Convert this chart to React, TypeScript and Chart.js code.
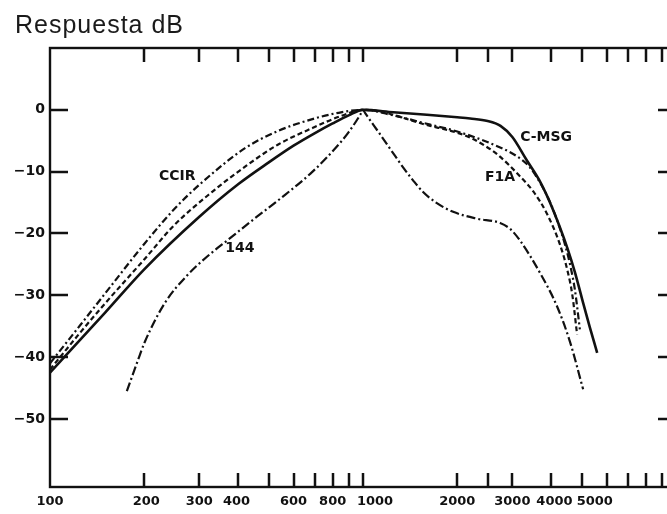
import React, { useEffect, useRef } from 'react';
import { Chart, registerables } from 'chart.js';

Chart.register(...registerables);

const TITLE = 'Respuesta dB';
const INK = '#111111';
const FONT = '"DejaVu Sans", "Liberation Sans", sans-serif';

const X_MIN = 100;
const X_MAX = 10000;
const Y_MIN = -61;
const Y_MAX = 10;

const X_LABEL_TICKS = [100, 200, 300, 400, 600, 800, 1000, 2000, 3000, 4000, 5000];
// small horizontal nudges of the printed labels (crowded labels in the original)
const X_LABEL_NUDGE = [0, 2, 0, -2, 0, 0, 12, 0, 0, 3, 13];
const X_MARK_TICKS = [200, 300, 400, 500, 600, 700, 800, 900, 1000, 2000, 2500, 3000, 4000, 5000, 6000, 7000, 8000, 9000];
const Y_TICKS = [0, -10, -20, -30, -40, -50];

// C-MSG (solid)
const CMSG_FREQ = [100, 150, 200, 300, 400, 500, 600, 700, 800, 900, 1000, 1250, 1600, 2000, 2200, 2500, 2750, 3000, 3340, 3650, 3950, 4250, 4500, 4750, 5000, 5300, 5600];
const CMSG_DB = [-42.5, -32.8, -25.8, -17.3, -12, -8.5, -5.8, -3.8, -2.2, -0.9, 0, -0.4, -0.8, -1.2, -1.4, -1.8, -2.6, -4.4, -8.2, -11.3, -14.9, -18.9, -22.4, -26.2, -30.4, -35.1, -39.3];

// CCIR (dash-dot)
const CCIR_FREQ = [100, 125, 150, 200, 250, 305, 420, 536, 700, 850, 1000, 1250, 1640, 2000, 2550, 3100, 3400, 3700, 3950, 4200, 4420, 4600, 4750, 4930];
const CCIR_DB = [-41, -34.8, -29.7, -21.7, -16, -11.8, -6.2, -3.4, -1.4, -0.4, 0, -0.9, -2.4, -3.5, -5.4, -7.5, -9.2, -12, -14.8, -18.3, -21.8, -25.3, -29, -35.5];

// F1A (dashed)
const F1A_FREQ = [100, 125, 150, 200, 250, 329, 425, 536, 692, 850, 1000, 1640, 2000, 2200, 2450, 2700, 3180, 3500, 3870, 4260, 4500, 4660, 4830];
const F1A_DB = [-42, -36, -31.3, -24.2, -18.6, -13.3, -9, -5.6, -2.9, -1, 0, -2.6, -3.7, -4.5, -5.8, -7.3, -10.8, -13.2, -16.8, -21.8, -26, -29.8, -36.3];

// 144 (long dash - dot)
const W144_FREQ = [176, 190, 201, 233, 274, 320, 371, 450, 540, 690, 813, 900, 985, 1000, 1015, 1132, 1248, 1343, 1445, 1556, 1722, 1941, 2311, 2742, 2958, 3180, 3680, 4170, 4590, 5050];
const W144_DB = [-45.5, -40.8, -37.5, -31.2, -26.8, -23.6, -21, -17.6, -14.5, -10, -6.3, -3.6, -0.6, 0, -0.5, -3.9, -7, -9.3, -11.4, -13.3, -15.1, -16.5, -17.6, -18.3, -19.3, -21.2, -26.4, -31.8, -37.6, -45.2];

const CURVE_LABELS = ['CCIR', 'C-MSG', 'F1A', '144'];
const CURVE_LABEL_FREQ = [255, 3846, 2742, 404];
const CURVE_LABEL_DB = [-10.8, -4.4, -11, -22.4];

const toPoints = (fs: number[], ds: number[]) => fs.map((f, i) => ({ x: f, y: ds[i] }));

const framePlugin = {
  id: 'frameAndLabels',
  afterDraw(chart: any) {
    const { ctx, chartArea: a, scales } = chart;
    const x = scales.x;
    const y = scales.y;
    ctx.save();
    ctx.strokeStyle = INK;
    ctx.lineWidth = 2.4;
    ctx.strokeRect(a.left, a.top, a.right - a.left, a.bottom - a.top);
    ctx.lineWidth = 2.5;
    ctx.beginPath();
    for (const v of X_MARK_TICKS) {
      const px = Math.round(x.getPixelForValue(v));
      ctx.moveTo(px, a.bottom);
      ctx.lineTo(px, a.bottom - 14);
      ctx.moveTo(px, a.top);
      ctx.lineTo(px, a.top + 14);
    }
    for (const v of Y_TICKS) {
      const py = Math.round(y.getPixelForValue(v));
      ctx.moveTo(a.left, py);
      ctx.lineTo(a.left + 18, py);
      ctx.moveTo(a.right, py);
      ctx.lineTo(a.right - 18, py);
    }
    ctx.stroke();
    ctx.fillStyle = INK;
    ctx.textAlign = 'center';
    ctx.textBaseline = 'middle';
    ctx.font = `bold 13px ${FONT}`;
    X_LABEL_TICKS.forEach((v, i) => {
      ctx.fillText(String(v), x.getPixelForValue(v) + X_LABEL_NUDGE[i], a.bottom + 15);
    });
    ctx.font = `bold 14px ${FONT}`;
    CURVE_LABELS.forEach((t, i) => {
      ctx.fillText(t, x.getPixelForValue(CURVE_LABEL_FREQ[i]), y.getPixelForValue(CURVE_LABEL_DB[i]));
    });
    ctx.restore();
  },
};

export default function App() {
  const ref = useRef<HTMLCanvasElement>(null);
  useEffect(() => {
    const common = { pointRadius: 0, borderColor: INK, fill: false, cubicInterpolationMode: 'monotone' as const };
    const chart = new Chart(ref.current as HTMLCanvasElement, {
      type: 'line',
      data: {
        datasets: [
          { ...common, label: 'C-MSG', data: toPoints(CMSG_FREQ, CMSG_DB), borderWidth: 2.6 },
          { ...common, label: 'CCIR', data: toPoints(CCIR_FREQ, CCIR_DB), borderWidth: 2.2, borderDash: [7, 3, 2, 3] },
          { ...common, label: 'F1A', data: toPoints(F1A_FREQ, F1A_DB), borderWidth: 2.2, borderDash: [5, 3] },
          { ...common, label: '144', data: toPoints(W144_FREQ, W144_DB), borderWidth: 2.2, borderDash: [9, 3, 2, 3] },
        ],
      },
      options: {
        responsive: false,
        animation: false,
        devicePixelRatio: 1,
        layout: { padding: { top: 48, right: 14, left: 0, bottom: 0 } },
        plugins: { legend: { display: false }, tooltip: { enabled: false }, title: { display: false } },
        scales: {
          x: {
            type: 'logarithmic',
            min: X_MIN,
            max: X_MAX,
            grid: { display: false, drawTicks: false },
            border: { display: false },
            afterBuildTicks: (s: any) => {
              s.ticks = X_LABEL_TICKS.map((v) => ({ value: v }));
            },
            afterFit: (s: any) => {
              s.height = 27;
            },
            ticks: { display: false },
          },
          y: {
            type: 'linear',
            min: Y_MIN,
            max: Y_MAX,
            grid: { display: false, drawTicks: false },
            border: { display: false },
            afterBuildTicks: (s: any) => {
              s.ticks = Y_TICKS.map((v) => ({ value: v }));
            },
            afterFit: (s: any) => {
              s.width = 50;
            },
            ticks: {
              padding: 5,
              color: INK,
              font: { family: FONT, size: 14, weight: 'bold' },
              callback: (v: any) => (v === 0 ? '0' : '\u2212' + Math.abs(v)),
            },
          },
        },
      },
      plugins: [framePlugin],
    } as any);
    return () => chart.destroy();
  }, []);
  return (
    <div style={{ position: 'fixed', left: 0, top: 0, width: 667, height: 514, overflow: 'hidden', background: '#ffffff' }}>
      <canvas ref={ref} width={690} height={514} style={{ display: 'block', width: 690, height: 514 }} />
      <div
        style={{
          position: 'absolute',
          left: 15,
          top: 10,
          font: '25px "Liberation Sans", Arial, sans-serif',
          letterSpacing: '1px',
          color: '#1a1a1a',
          whiteSpace: 'nowrap',
        }}
      >
        {TITLE}
      </div>
    </div>
  );
}
